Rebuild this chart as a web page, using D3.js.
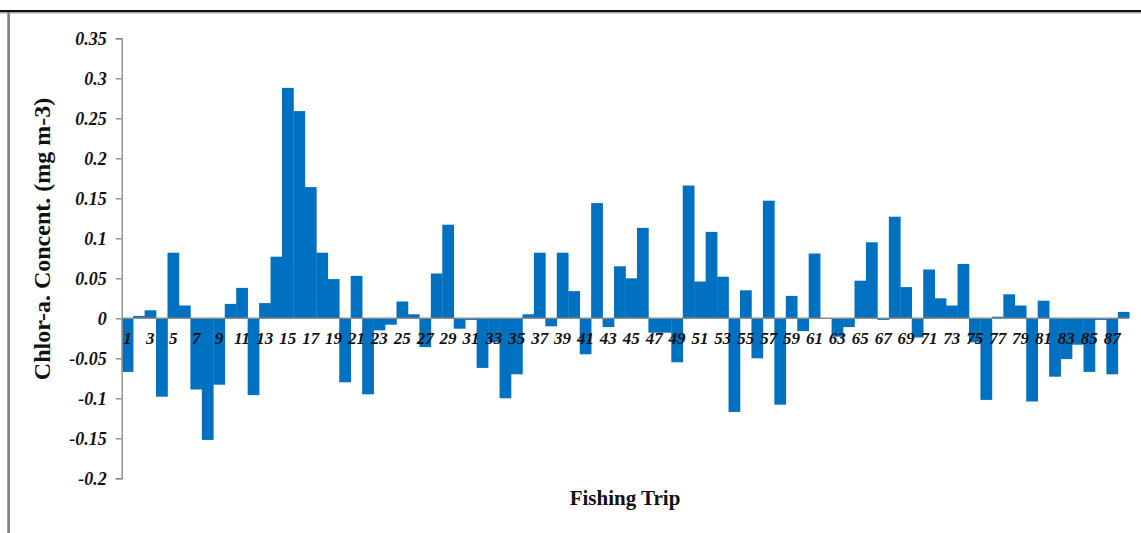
<!DOCTYPE html>
<html>
<head>
<meta charset="utf-8">
<script src="https://cdn.jsdelivr.net/npm/d3@7"></script>
<style>
  html, body { margin: 0; padding: 0; background: #fff; }
  svg { display: block; }
</style>
</head>
<body>
<svg id="chart" width="1141" height="533"></svg>
<script>
// Chlorophyll-a concentration anomaly per fishing trip (mg m-3)
const trips = d3.range(1, 89);
const chlorValues = [
  -0.067, 0.003, 0.010, -0.098, 0.082, 0.016, -0.089, -0.152, -0.083, 0.018,
  0.038, -0.096, 0.019, 0.077, 0.288, 0.259, 0.164, 0.082, 0.049, -0.080,
  0.053, -0.095, -0.015, -0.008, 0.021, 0.005, -0.036, 0.056, 0.117, -0.013,
  -0.002, -0.062, -0.030, -0.100, -0.070, 0.005, 0.082, -0.010, 0.082, 0.034,
  -0.045, 0.144, -0.011, 0.065, 0.050, 0.113, -0.018, -0.018, -0.055, 0.166,
  0.046, 0.108, 0.052, -0.117, 0.035, -0.050, 0.147, -0.108, 0.028, -0.016,
  0.081, 0.000, -0.023, -0.011, 0.047, 0.095, -0.002, 0.127, 0.039, -0.024,
  0.061, 0.025, 0.016, 0.068, -0.030, -0.102, 0.002, 0.030, 0.016, -0.104,
  0.022, -0.073, -0.051, -0.033, -0.067, -0.002, -0.070, 0.008
];
const yTicks = [-0.2, -0.15, -0.1, -0.05, 0, 0.05, 0.1, 0.15, 0.2, 0.25, 0.3, 0.35];
const yTickLabels = ["-0.2", "-0.15", "-0.1", "-0.05", "0", "0.05", "0.1", "0.15", "0.2", "0.25", "0.3", "0.35"];
const tripLabels = trips.filter(t => t % 2 === 1);
const yTitle = "Chlor-a.  Concent. (mg m-3)";
const xTitle = "Fishing Trip";

const svg = d3.select("#chart");
const serif = "'Times New Roman', 'Liberation Serif', serif";

const plot = { left: 121.7, right: 1129.3, top: 38.3, bottom: 478.3 };

const x = d3.scaleBand()
  .domain(trips)
  .range([plot.left, plot.right])
  .paddingInner(0)
  .paddingOuter(0);

const y = d3.scaleLinear()
  .domain([-0.2, 0.35])
  .range([plot.bottom, plot.top]);

// page frame (table border around the figure)
svg.append("line")
  .attr("x1", 0).attr("x2", 1141).attr("y1", 12.8).attr("y2", 12.8)
  .attr("stroke", "#a6a6a6").attr("stroke-width", 1.6);
svg.append("line")
  .attr("x1", 0).attr("x2", 1141).attr("y1", 11).attr("y2", 11)
  .attr("stroke", "#111").attr("stroke-width", 2);
svg.append("line")
  .attr("x1", 8.6).attr("x2", 8.6).attr("y1", 12).attr("y2", 533)
  .attr("stroke", "#7f7f7f").attr("stroke-width", 2.6);

// bars
svg.append("g")
  .selectAll("rect")
  .data(trips)
  .join("rect")
  .attr("x", d => x(d))
  .attr("width", x.bandwidth() + 0.3)
  .attr("y", (d, i) => y(Math.max(0, chlorValues[i])))
  .attr("height", (d, i) => Math.abs(y(chlorValues[i]) - y(0)))
  .attr("fill", "#0070c0");

// y axis
const yAxis = d3.axisLeft(y)
  .tickValues(yTicks)
  .tickFormat((d, i) => yTickLabels[i])
  .tickSize(6)
  .tickPadding(9);

const yg = svg.append("g")
  .attr("transform", `translate(${plot.left},0)`)
  .call(yAxis);
yg.select(".domain").attr("stroke", "#8c8c8c").attr("stroke-width", 1.4);
yg.selectAll(".tick line").attr("stroke", "#8c8c8c").attr("stroke-width", 1.4);
yg.selectAll(".tick text")
  .attr("font-family", serif)
  .attr("font-size", 18)
  .attr("font-style", "italic")
  .attr("font-weight", "bold")
  .attr("fill", "#111");

// zero baseline
svg.append("line")
  .attr("x1", plot.left).attr("x2", plot.right)
  .attr("y1", y(0)).attr("y2", y(0))
  .attr("stroke", "#8c8c8c").attr("stroke-width", 1.4);

// category labels just under the zero line
const xAxis = d3.axisBottom(x)
  .tickValues(tripLabels)
  .tickSize(0)
  .tickPadding(14);
const xg = svg.append("g")
  .attr("transform", `translate(0,${y(0)})`)
  .call(xAxis);
xg.select(".domain").remove();
xg.selectAll(".tick text")
  .attr("font-family", serif)
  .attr("font-size", 17)
  .attr("font-style", "italic")
  .attr("font-weight", "bold")
  .attr("fill", "#111");

// axis titles
svg.append("text")
  .attr("transform", `translate(50,239) rotate(-90)`)
  .attr("text-anchor", "middle")
  .attr("font-family", serif)
  .attr("font-size", 24)
  .attr("font-weight", "bold")
  .attr("fill", "#111")
  .text(yTitle);

svg.append("text")
  .attr("x", 625)
  .attr("y", 505)
  .attr("text-anchor", "middle")
  .attr("font-family", serif)
  .attr("font-size", 21)
  .attr("font-weight", "bold")
  .attr("fill", "#111")
  .text(xTitle);
</script>
</body>
</html>
